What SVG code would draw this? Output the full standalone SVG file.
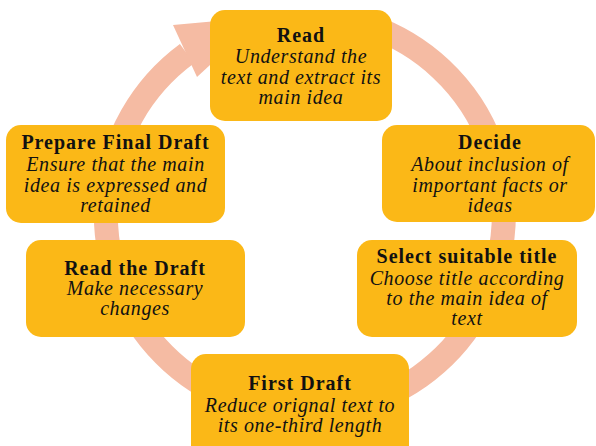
<svg xmlns="http://www.w3.org/2000/svg" width="596" height="446" viewBox="0 0 596 446">
  <style>
    .box { fill: #FBB817; }
    .ring { fill: none; stroke: #F5BBA3; stroke-width: 24; }
    .head { fill: #F5BBA3; }
    text { font-family: "Liberation Serif", "Times New Roman", serif; font-size: 20px; fill: #111; text-anchor: middle; }
    .t { font-weight: bold; letter-spacing: 1px; }
    .s { font-style: italic; letter-spacing: 0.6px; }
  </style>
  <rect width="596" height="446" fill="#ffffff"/>
  <g id="connectors">
    <path class="ring" d="M 370 26 A 199 199 0 1 1 187 53.7"/>
    <polygon class="head" points="173,25 262,17 197,77"/>
  </g>
  <g id="read">
    <rect class="box" x="210" y="10" width="182" height="111" rx="15"/>
    <text class="t" x="301" y="42">Read</text>
    <text class="s" x="301" y="63">Understand the</text>
    <text class="s" x="301" y="84">text and extract its</text>
    <text class="s" x="301" y="104">main idea</text>
  </g>
  <g id="decide">
    <rect class="box" x="382" y="125" width="213" height="97" rx="15"/>
    <text class="t" x="490" y="149">Decide</text>
    <text class="s" x="490" y="171">About inclusion of</text>
    <text class="s" x="490" y="192">important facts or</text>
    <text class="s" x="490" y="212">ideas</text>
  </g>
  <g id="select">
    <rect class="box" x="357" y="240" width="220" height="97" rx="15"/>
    <text class="t" x="467" y="263">Select suitable title</text>
    <text class="s" x="467" y="285">Choose title according</text>
    <text class="s" x="467" y="305">to the main idea of</text>
    <text class="s" x="467" y="325">text</text>
  </g>
  <g id="first-draft">
    <rect class="box" x="191" y="354" width="218" height="110" rx="15"/>
    <text class="t" x="300" y="390">First Draft</text>
    <text class="s" x="300" y="412">Reduce orignal text to</text>
    <text class="s" x="300" y="432">its one-third length</text>
  </g>
  <g id="read-draft">
    <rect class="box" x="26" y="240" width="219" height="97" rx="15"/>
    <text class="t" x="135" y="275">Read the Draft</text>
    <text class="s" x="135" y="295">Make necessary</text>
    <text class="s" x="135" y="315">changes</text>
  </g>
  <g id="prepare-final">
    <rect class="box" x="6" y="125" width="219" height="98" rx="15"/>
    <text class="t" x="115.5" y="149">Prepare Final Draft</text>
    <text class="s" x="115.5" y="171">Ensure that the main</text>
    <text class="s" x="115.5" y="192">idea is expressed and</text>
    <text class="s" x="115.5" y="212">retained</text>
  </g>
</svg>
